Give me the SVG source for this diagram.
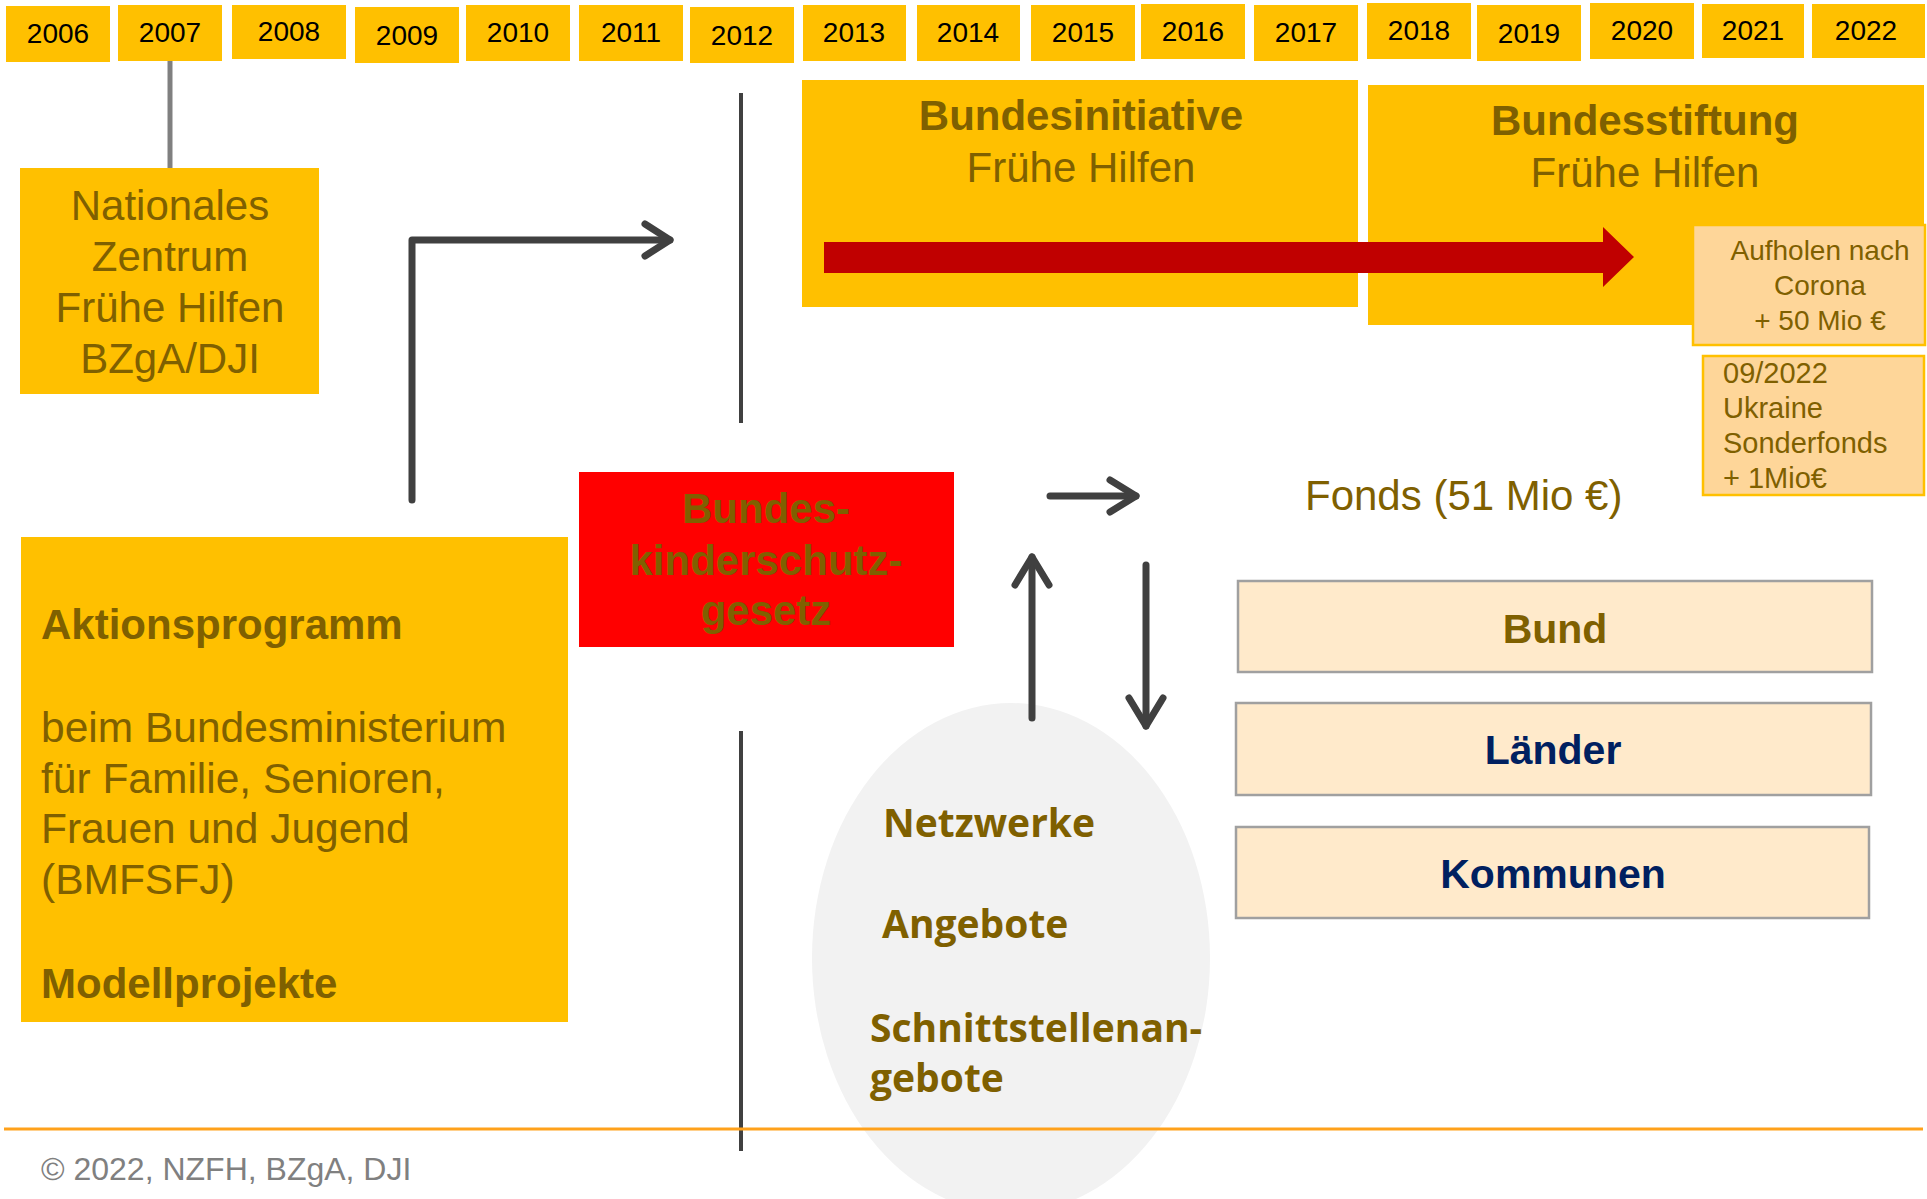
<svg xmlns="http://www.w3.org/2000/svg" width="1927" height="1199" viewBox="0 0 1927 1199">
<defs>
<style>
.yr{fill:#FFC000}
.yt{font-family:"Liberation Sans",Arial,sans-serif;font-size:28px;fill:#000;text-anchor:middle}
.gold{fill:#FFC000}
.ol{fill:#7F6000;font-family:"Liberation Sans",Arial,sans-serif}
.b{font-weight:bold}
.mid{text-anchor:middle}
.conn{stroke:#404040;stroke-width:7;fill:none;stroke-linecap:round;stroke-linejoin:round}
.vline{stroke:#404040;stroke-width:4;fill:none}
.peach{fill:#FED699;stroke:#FFC000;stroke-width:2.5}
.lvl{fill:#FFEACB;stroke:#A0A0A0;stroke-width:2.5}
.el{fill:#7F6000;font-family:"Open Sans","Noto Sans",sans-serif;font-weight:bold;font-size:39px}
.navy{fill:#002060}
</style>
</defs>
<rect width="1927" height="1199" fill="#fff"/>

<g id="timeline">
<rect class="yr" x="6" y="6" width="104" height="56"/><text class="yt" x="58" y="43">2006</text>
<rect class="yr" x="118" y="5" width="104" height="56"/><text class="yt" x="170" y="42">2007</text>
<rect class="yr" x="232" y="5" width="114" height="54"/><text class="yt" x="289" y="41">2008</text>
<rect class="yr" x="355" y="7" width="104" height="56"/><text class="yt" x="407" y="45">2009</text>
<rect class="yr" x="466" y="5" width="104" height="56"/><text class="yt" x="518" y="42">2010</text>
<rect class="yr" x="579" y="5" width="104" height="56"/><text class="yt" x="631" y="42">2011</text>
<rect class="yr" x="690" y="7" width="104" height="56"/><text class="yt" x="742" y="45">2012</text>
<rect class="yr" x="803" y="5" width="103" height="56"/><text class="yt" x="854" y="42">2013</text>
<rect class="yr" x="917" y="5" width="103" height="56"/><text class="yt" x="968" y="42">2014</text>
<rect class="yr" x="1031" y="5" width="104" height="56"/><text class="yt" x="1083" y="42">2015</text>
<rect class="yr" x="1141" y="4" width="104" height="55"/><text class="yt" x="1193" y="41">2016</text>
<rect class="yr" x="1254" y="5" width="104" height="56"/><text class="yt" x="1306" y="42">2017</text>
<rect class="yr" x="1367" y="3" width="104" height="56"/><text class="yt" x="1419" y="40">2018</text>
<rect class="yr" x="1477" y="5" width="104" height="56"/><text class="yt" x="1529" y="43">2019</text>
<rect class="yr" x="1590" y="3" width="104" height="56"/><text class="yt" x="1642" y="40">2020</text>
<rect class="yr" x="1702" y="4" width="102" height="54"/><text class="yt" x="1753" y="40">2021</text>
<rect class="yr" x="1812" y="4" width="113" height="54"/><text class="yt" x="1866" y="40">2022</text>
</g>

<g id="ellipse-node">
<ellipse cx="1011" cy="958" rx="199" ry="255" fill="#F2F2F2"/>
<text class="el" x="883" y="837">Netzwerke</text>
<text class="el" x="882" y="938">Angebote</text>
<text class="el" x="870" y="1042">Schnittstellenan-</text>
<text class="el" x="870" y="1092">gebote</text>
</g>

<g id="connectors">
<line x1="170" y1="61" x2="170" y2="168" stroke="#808080" stroke-width="5"/>
<path class="conn" d="M412 500 V240 H670"/>
<path class="conn" d="M645 224 L670 240 L645 256"/>
<line class="vline" x1="741" y1="93" x2="741" y2="423"/>
<line class="vline" x1="741" y1="731" x2="741" y2="1151"/>
<path class="conn" d="M1050 496 H1136"/>
<path class="conn" d="M1110 480 L1136 496 L1110 512"/>
<path class="conn" d="M1032 718 V557"/>
<path class="conn" d="M1015 585 L1032 557 L1049 585"/>
<path class="conn" d="M1146 565 V726"/>
<path class="conn" d="M1129 698 L1146 726 L1163 698"/>
</g>

<g id="nzfh">
<rect class="gold" x="20" y="168" width="299" height="226"/>
<text class="ol mid" font-size="42" x="170" y="220">Nationales</text>
<text class="ol mid" font-size="42" x="170" y="271">Zentrum</text>
<text class="ol mid" font-size="42" x="170" y="322">Frühe Hilfen</text>
<text class="ol mid" font-size="42" x="170" y="373">BZgA/DJI</text>
</g>

<g id="bundesinitiative">
<rect class="gold" x="802" y="80" width="556" height="227"/>
<text class="ol mid b" font-size="42" x="1081" y="130">Bundesinitiative</text>
<text class="ol mid" font-size="42" x="1081" y="182">Frühe Hilfen</text>
</g>

<g id="bundesstiftung">
<rect class="gold" x="1368" y="85" width="556" height="240"/>
<text class="ol mid b" font-size="42" x="1645" y="135">Bundesstiftung</text>
<text class="ol mid" font-size="42" x="1645" y="187">Frühe Hilfen</text>
</g>

<g id="red-arrow">
<polygon fill="#C00000" points="824,242 1603,242 1603,227 1634,257 1603,287 1603,273 824,273"/>
</g>

<g id="aufholen">
<rect class="peach" x="1693" y="225" width="232" height="120"/>
<text class="ol mid" font-size="28" x="1820" y="260">Aufholen nach</text>
<text class="ol mid" font-size="28" x="1820" y="295">Corona</text>
<text class="ol mid" font-size="28" x="1820" y="330">+ 50 Mio €</text>
</g>

<g id="ukraine">
<rect class="peach" x="1703" y="356" width="221" height="139"/>
<text class="ol" font-size="29" x="1723" y="383">09/2022</text>
<text class="ol" font-size="29" x="1723" y="418">Ukraine</text>
<text class="ol" font-size="29" x="1723" y="453">Sonderfonds</text>
<text class="ol" font-size="29" x="1723" y="488">+ 1Mio€</text>
</g>

<g id="bkisch">
<rect x="579" y="472" width="375" height="175" fill="#FF0000"/>
<text class="ol mid b" font-size="42" x="766" y="523">Bundes-</text>
<text class="ol mid b" font-size="42" x="766" y="575">kinderschutz-</text>
<text class="ol mid b" font-size="42" x="766" y="625">gesetz</text>
</g>

<g id="fonds">
<text class="ol" font-size="42" x="1305" y="510">Fonds (51 Mio €)</text>
</g>

<g id="aktionsprogramm">
<rect class="gold" x="21" y="537" width="547" height="485"/>
<text class="ol b" font-size="42" x="41" y="639">Aktionsprogramm</text>
<text class="ol" font-size="42.5" x="41" y="742">beim Bundesministerium</text>
<text class="ol" font-size="42.5" x="41" y="793">für Familie, Senioren,</text>
<text class="ol" font-size="42.5" x="41" y="843">Frauen und Jugend</text>
<text class="ol" font-size="42.5" x="41" y="894">(BMFSFJ)</text>
<text class="ol b" font-size="42" x="41" y="998">Modellprojekte</text>
</g>

<g id="bund">
<rect class="lvl" x="1238" y="581" width="634" height="91"/>
<text class="ol mid b" font-size="41" x="1555" y="643">Bund</text>
</g>
<g id="laender">
<rect class="lvl" x="1236" y="703" width="635" height="92"/>
<text class="ol mid b navy" font-size="41" x="1553" y="764">Länder</text>
</g>
<g id="kommunen">
<rect class="lvl" x="1236" y="827" width="633" height="91"/>
<text class="ol mid b navy" font-size="41" x="1553" y="888">Kommunen</text>
</g>

<g id="footer">
<line x1="4" y1="1129" x2="1923" y2="1129" stroke="#FFA11B" stroke-width="3"/>
<text x="41" y="1180" font-family="'Liberation Sans',Arial,sans-serif" font-size="32" fill="#808080">© 2022, NZFH, BZgA, DJI</text>
</g>
</svg>
